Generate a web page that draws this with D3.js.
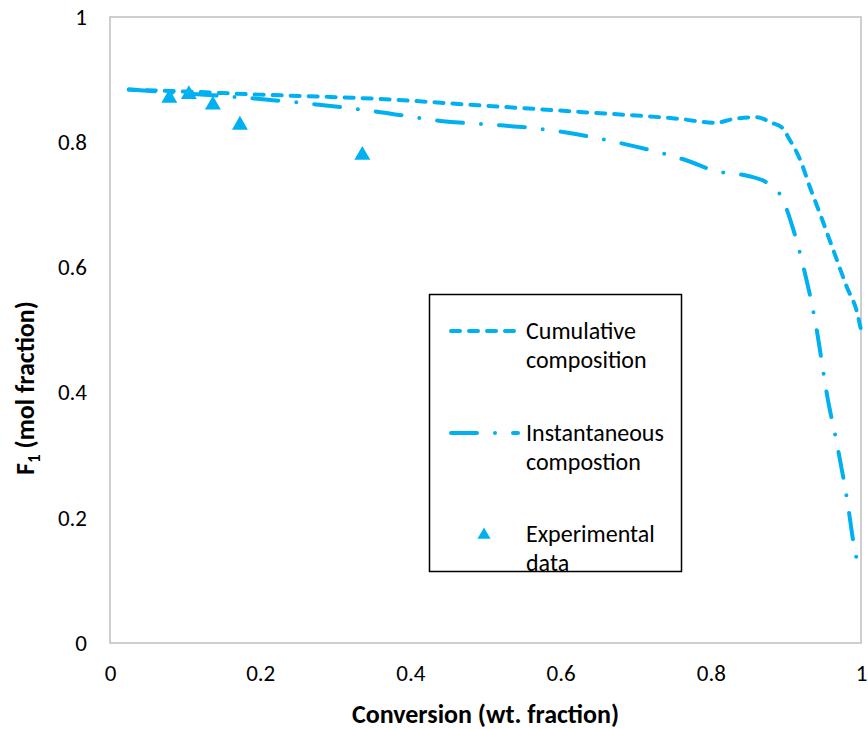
<!DOCTYPE html>
<html>
<head>
<meta charset="utf-8">
<script src="https://cdn.jsdelivr.net/npm/d3@7"></script>
<style>
  body { margin: 0; background: #fff; }
  svg { display: block; font-family: Carlito, Lato, "Open Sans", sans-serif; }
  .axis-title { font-size: 26px; font-weight: bold; fill: #000; }
  .legend text { font-size: 24px; fill: #000; }
</style>
</head>
<body>
<div id="chart"></div>
<script>
/* F1 vs conversion — cumulative / instantaneous model curves + experimental points */

// ---- data ----
const CUM_X = [0.025, 0.10, 0.20, 0.30, 0.36, 0.49, 0.63, 0.76, 0.806, 0.83, 0.861, 0.881, 0.895, 0.905, 0.919, 0.932, 0.945, 0.963, 0.981, 0.995, 1.0];
const CUM_Y = [0.884, 0.881, 0.876, 0.872, 0.869, 0.859, 0.848, 0.837, 0.831, 0.837, 0.840, 0.831, 0.823, 0.804, 0.772, 0.728, 0.687, 0.628, 0.569, 0.527, 0.500];

const INST_X = [0.025, 0.10, 0.20, 0.30, 0.36, 0.44, 0.52, 0.56, 0.61, 0.67, 0.73, 0.77, 0.806, 0.85, 0.875, 0.896, 0.91, 0.921, 0.939, 0.956, 0.968, 0.983, 0.99, 0.997];
const INST_Y = [0.884, 0.878, 0.869, 0.857, 0.848, 0.834, 0.827, 0.823, 0.815, 0.801, 0.784, 0.770, 0.754, 0.746, 0.735, 0.708, 0.660, 0.612, 0.514, 0.388, 0.318, 0.217, 0.160, 0.120];

const EXP_X = [0.079, 0.105, 0.137, 0.173, 0.336];
const EXP_Y = [0.872, 0.878, 0.861, 0.829, 0.781];

const X_TICKS = [0, 0.2, 0.4, 0.6, 0.8, 1];
const Y_TICKS = [0, 0.2, 0.4, 0.6, 0.8, 1];

const LEGEND = ["Cumulative|composition", "Instantaneous|compostion", "Experimental|data"];

const W = 868, H = 729;
const M = { left: 110, right: 7, top: 17, bottom: 86 };
const BLUE = "#00B0F0";
const DASH = "9,9", DASHDOT = "26,18,0,18";

const x = d3.scaleLinear().domain([0, 1]).range([M.left, W - M.right]);
const y = d3.scaleLinear().domain([0, 1]).range([H - M.bottom, M.top]);

const svg = d3.select("#chart").append("svg").attr("width", W).attr("height", H);

// plot frame
svg.append("rect")
  .attr("x", x(0)).attr("y", y(1))
  .attr("width", x(1) - x(0)).attr("height", y(0) - y(1))
  .attr("fill", "none").attr("stroke", "#BFBFBF").attr("stroke-width", 1.5);

// axes (labels only, no tick marks)
const xAxis = svg.append("g").attr("transform", `translate(0,${y(0)})`)
  .call(d3.axisBottom(x).tickValues(X_TICKS).tickSize(0).tickPadding(22).tickFormat(d3.format("")));
const yAxis = svg.append("g").attr("transform", `translate(${x(0)},0)`)
  .call(d3.axisLeft(y).tickValues(Y_TICKS).tickSize(0).tickPadding(23).tickFormat(d3.format("")));
[xAxis, yAxis].forEach(a => {
  a.attr("font-family", null).attr("font-size", null);
  a.select(".domain").remove();
  a.selectAll(".tick text").style("font-size", "23px").style("fill", "#000");
});

svg.append("text").attr("class", "axis-title")
  .attr("x", (x(0) + x(1)) / 2).attr("y", 714).attr("dy", "0.35em").attr("text-anchor", "middle")
  .text("Conversion (wt. fraction)");

const yt = svg.append("text").attr("class", "axis-title")
  .attr("transform", `translate(25,388) rotate(-90)`).attr("dy", "0.35em").attr("text-anchor", "middle");
yt.append("tspan").text("F");
yt.append("tspan").attr("font-size", "17px").attr("dy", 6).text("1");
yt.append("tspan").attr("dy", -6).text(" (mol fraction)");

// curves
const line = d3.line().x(d => x(d[0])).y(d => y(d[1])).curve(d3.curveMonotoneX);
const cum = d3.zip(CUM_X, CUM_Y), inst = d3.zip(INST_X, INST_Y);

svg.append("path").datum(cum).attr("d", line)
  .attr("fill", "none").attr("stroke", BLUE).attr("stroke-width", 4)
  .attr("stroke-linecap", "round").attr("stroke-dasharray", DASH);
svg.append("path").datum(inst).attr("d", line)
  .attr("fill", "none").attr("stroke", BLUE).attr("stroke-width", 4)
  .attr("stroke-linecap", "round").attr("stroke-dasharray", DASHDOT);

// experimental triangles
const tri = d3.symbol().type(d3.symbolTriangle);
svg.selectAll("path.exp").data(d3.zip(EXP_X, EXP_Y)).enter().append("path")
  .attr("class", "exp").attr("d", tri.size(110)())
  .attr("transform", d => `translate(${x(d[0])},${y(d[1]) + 1})`)
  .attr("fill", BLUE);

// legend
const lg = svg.append("g").attr("class", "legend");
lg.append("rect").attr("x", 429.5).attr("y", 294.5).attr("width", 252).attr("height", 277)
  .attr("fill", "#fff").attr("stroke", "#000").attr("stroke-width", 1.5);
const rowY = [331, 433, 534];
LEGEND.forEach((lab, i) => {
  const cy = rowY[i];
  if (i < 2) {
    lg.append("line").attr("x1", 451).attr("x2", 518).attr("y1", cy).attr("y2", cy)
      .attr("stroke", BLUE).attr("stroke-width", 4).attr("stroke-linecap", "round")
      .attr("stroke-dasharray", i === 0 ? DASH : DASHDOT);
  } else {
    lg.append("path").attr("d", tri.size(75)()).attr("transform", `translate(484,${cy + 1})`).attr("fill", BLUE);
  }
  lab.split("|").forEach((t, j) => {
    lg.append("text").attr("x", 526).attr("y", cy + j * 29).attr("dy", "0.35em").text(t);
  });
});
</script>
</body>
</html>
